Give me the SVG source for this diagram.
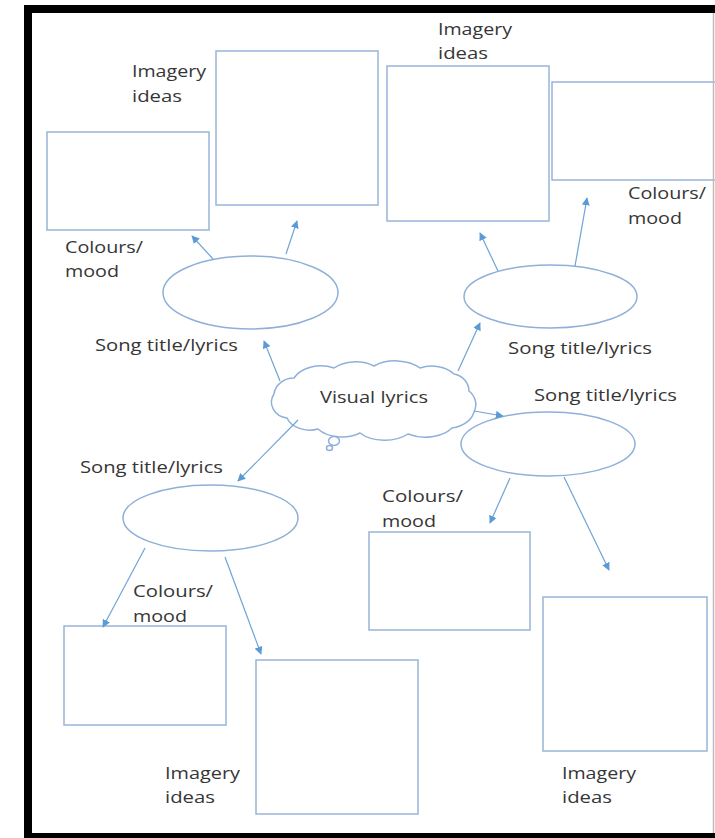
<svg xmlns="http://www.w3.org/2000/svg" width="715" height="838" viewBox="0 0 715 838">
<style>
.box{fill:#fff;stroke:#9ab4d8;stroke-width:1.5}
.shape{fill:#fff;stroke:#8fb0d8;stroke-width:1.5}
.conn{stroke:#6fa3d8;stroke-width:1.2;fill:none;marker-end:url(#ah)}
.t{font-family:"Open Sans","Noto Sans","Liberation Sans",sans-serif;font-size:17px;fill:#363636}
</style>
<defs>
<marker id="ah" viewBox="0 0 10 10" refX="9" refY="5" markerWidth="8" markerHeight="8" markerUnits="userSpaceOnUse" orient="auto">
<path d="M0,0 L10,5 L0,10 z" fill="#5b9bd5"/>
</marker>
</defs>
<rect x="0" y="0" width="715" height="838" fill="#fff"/>
<!-- boxes -->
<g id="box-tl-colours"><rect class="box" x="47" y="132" width="162" height="98"/></g>
<g id="box-tl-imagery"><rect class="box" x="216" y="51" width="162" height="154"/></g>
<g id="box-tr-imagery"><rect class="box" x="387" y="66" width="162" height="155"/></g>
<g id="box-tr-colours"><rect class="box" x="552" y="82" width="170" height="98"/></g>
<g id="box-br-colours"><rect class="box" x="369" y="532" width="161" height="98"/></g>
<g id="box-br-imagery"><rect class="box" x="543" y="597" width="164" height="154"/></g>
<g id="box-bl-colours"><rect class="box" x="64" y="626" width="162" height="99"/></g>
<g id="box-bl-imagery"><rect class="box" x="256" y="660" width="162" height="154"/></g>
<!-- frame -->
<g id="frame">
<rect x="24" y="5" width="691" height="8" fill="#000"/>
<rect x="24" y="5" width="8" height="833" fill="#000"/>
<rect x="24" y="833" width="691" height="5" fill="#000"/>
<line x1="713.5" y1="13" x2="713.5" y2="833" stroke="#bdbdbd" stroke-width="1.5"/>
</g>
<!-- ellipses -->
<g id="song-tl"><ellipse class="shape" cx="250.5" cy="292.5" rx="87.5" ry="36.5"/></g>
<g id="song-tr"><ellipse class="shape" cx="550.5" cy="296.5" rx="86.5" ry="31.5"/></g>
<g id="song-br"><ellipse class="shape" cx="548" cy="444" rx="87" ry="32"/></g>
<g id="song-bl"><ellipse class="shape" cx="210.5" cy="518" rx="87.5" ry="33"/></g>
<!-- cloud -->
<g id="cloud">
<path class="shape" d="M274,394 A20,18 0 0 1 294,378 A30,22 0 0 1 334,368 A30,20 0 0 1 374,366 A32,20 0 0 1 420,368 A28,20 0 0 1 454,374 A18,18 0 0 1 469,391 A20,18 0 0 1 474,412 A28,20 0 0 1 452,428 A32,20 0 0 1 408,434 A32,20 0 0 1 360,433 A30,20 0 0 1 318,429 A24,18 0 0 1 287,418 A18,16 0 0 1 274,394 Z"/>
<ellipse class="shape" cx="334" cy="441" rx="5.5" ry="4.5"/>
<ellipse class="shape" cx="329.5" cy="448" rx="3" ry="2.5"/>
<text class="t" x="320" y="403" textLength="108" lengthAdjust="spacingAndGlyphs">Visual lyrics</text>
</g>
<!-- connectors -->
<g id="connectors">
<line class="conn" x1="280" y1="381" x2="264" y2="341"/>
<line class="conn" x1="458" y1="371" x2="480" y2="323"/>
<line class="conn" x1="474" y1="411" x2="503" y2="416"/>
<line class="conn" x1="298" y1="420" x2="238" y2="481"/>
<line class="conn" x1="213" y1="259" x2="192" y2="236"/>
<line class="conn" x1="286" y1="254" x2="297" y2="221"/>
<line class="conn" x1="498" y1="271" x2="480" y2="233"/>
<line class="conn" x1="575" y1="266" x2="587" y2="198"/>
<line class="conn" x1="510" y1="478" x2="490" y2="523"/>
<line class="conn" x1="564" y1="477" x2="609" y2="570"/>
<line class="conn" x1="145" y1="548" x2="103" y2="627"/>
<line class="conn" x1="225" y1="557" x2="261" y2="654"/>
</g>
<!-- labels -->
<g id="labels">
<text class="t" x="132" y="77" textLength="74" lengthAdjust="spacingAndGlyphs">Imagery</text>
<text class="t" x="132" y="102" textLength="50" lengthAdjust="spacingAndGlyphs">ideas</text>
<text class="t" x="65" y="253" textLength="78" lengthAdjust="spacingAndGlyphs">Colours/</text>
<text class="t" x="65" y="277" textLength="54" lengthAdjust="spacingAndGlyphs">mood</text>
<text class="t" x="438" y="35" textLength="74" lengthAdjust="spacingAndGlyphs">Imagery</text>
<text class="t" x="438" y="59" textLength="50" lengthAdjust="spacingAndGlyphs">ideas</text>
<text class="t" x="628" y="199" textLength="78" lengthAdjust="spacingAndGlyphs">Colours/</text>
<text class="t" x="628" y="224" textLength="54" lengthAdjust="spacingAndGlyphs">mood</text>
<text class="t" x="95" y="351" textLength="143" lengthAdjust="spacingAndGlyphs">Song title/lyrics</text>
<text class="t" x="508" y="354" textLength="144" lengthAdjust="spacingAndGlyphs">Song title/lyrics</text>
<text class="t" x="534" y="401" textLength="143" lengthAdjust="spacingAndGlyphs">Song title/lyrics</text>
<text class="t" x="80" y="473" textLength="143" lengthAdjust="spacingAndGlyphs">Song title/lyrics</text>
<text class="t" x="382" y="502" textLength="81" lengthAdjust="spacingAndGlyphs">Colours/</text>
<text class="t" x="382" y="527" textLength="54" lengthAdjust="spacingAndGlyphs">mood</text>
<text class="t" x="133" y="597" textLength="80" lengthAdjust="spacingAndGlyphs">Colours/</text>
<text class="t" x="133" y="622" textLength="54" lengthAdjust="spacingAndGlyphs">mood</text>
<text class="t" x="165" y="779" textLength="75" lengthAdjust="spacingAndGlyphs">Imagery</text>
<text class="t" x="165" y="803" textLength="50" lengthAdjust="spacingAndGlyphs">ideas</text>
<text class="t" x="562" y="779" textLength="74" lengthAdjust="spacingAndGlyphs">Imagery</text>
<text class="t" x="562" y="803" textLength="50" lengthAdjust="spacingAndGlyphs">ideas</text>
</g>
</svg>
